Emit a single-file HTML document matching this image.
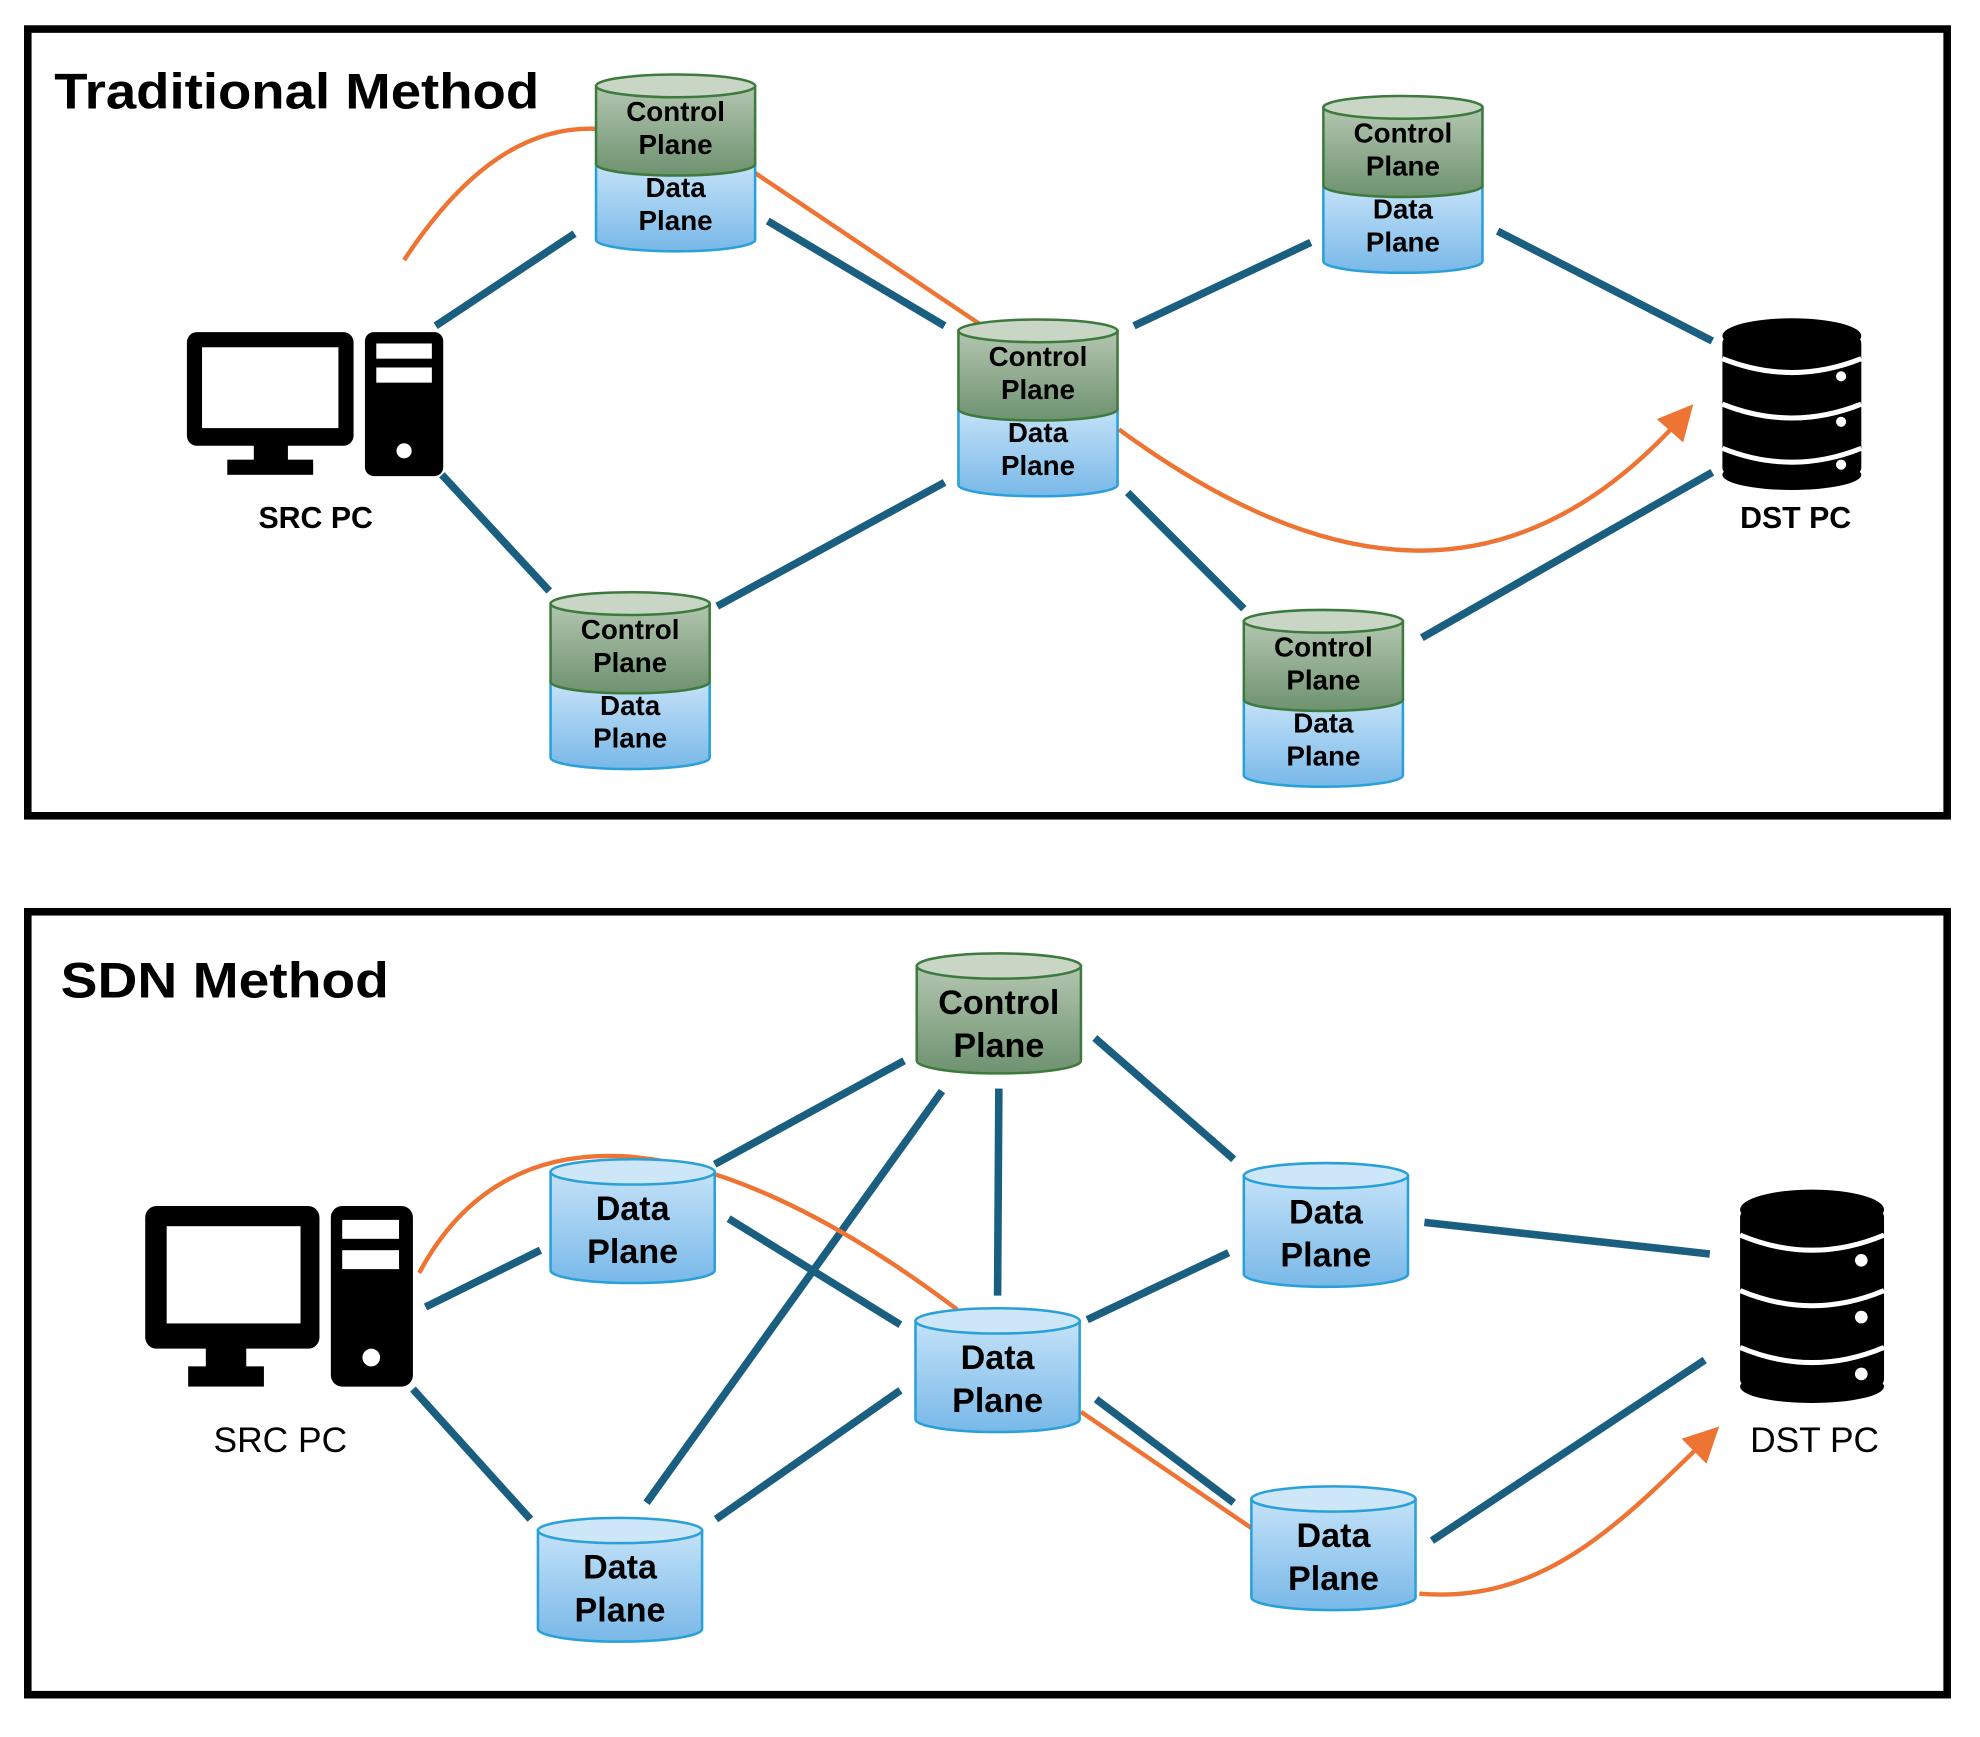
<!DOCTYPE html>
<html><head><meta charset="utf-8"><style>html,body{margin:0;padding:0;background:#fff}svg{display:block}</style></head>
<body>
<svg width="1980" height="1737" viewBox="0 0 1568 1375.5" preserveAspectRatio="none" xmlns="http://www.w3.org/2000/svg" font-family="Liberation Sans, sans-serif" font-weight="bold">
<defs>
<linearGradient id="g" x1="0" y1="0" x2="0" y2="1"><stop offset="0" stop-color="#b3c6b0"/><stop offset="1" stop-color="#6e9270"/></linearGradient>
<linearGradient id="b" x1="0" y1="0" x2="0" y2="1"><stop offset="0" stop-color="#c4e2f8"/><stop offset="1" stop-color="#78b8e8"/></linearGradient>
<marker id="ar" markerWidth="8" markerHeight="8" refX="5" refY="4" orient="auto" markerUnits="strokeWidth"><path d="M0,0 L8,4 L0,8 Z" fill="#ed7433"/></marker>
<g id="dual">
<path d="M0,62 L0,122 A63,9 0 0 0 126,122 L126,62 Z" fill="url(#b)" stroke="#2aa0d8" stroke-width="2"/>
<path d="M0,0 L0,62 A63,9 0 0 0 126,62 L126,0 Z" fill="url(#g)" stroke="#3d7a3d" stroke-width="2"/>
<ellipse cx="63" cy="0" rx="63" ry="9" fill="#c9d6c6" stroke="#3d7a3d" stroke-width="2"/>
<text x="63" y="28" font-size="22" text-anchor="middle">Control</text>
<text x="63" y="54" font-size="22" text-anchor="middle">Plane</text>
<text x="63" y="88" font-size="22" text-anchor="middle">Data</text>
<text x="63" y="114" font-size="22" text-anchor="middle">Plane</text>
</g>
<g id="dp">
<path d="M0,0 L0,78 A65,10 0 0 0 130,78 L130,0 Z" fill="url(#b)" stroke="#2aa0d8" stroke-width="2"/>
<ellipse cx="65" cy="0" rx="65" ry="10" fill="#cde6f8" stroke="#2aa0d8" stroke-width="2"/>
<text x="65" y="38" font-size="27" text-anchor="middle">Data</text>
<text x="65" y="72" font-size="27" text-anchor="middle">Plane</text>
</g>
</defs>
<rect x="22" y="23" width="1520" height="623" fill="none" stroke="#000" stroke-width="6"/>
<rect x="22" y="722" width="1520" height="620" fill="none" stroke="#000" stroke-width="6"/>
<text x="43" y="86" font-size="40" textLength="384" lengthAdjust="spacingAndGlyphs">Traditional Method</text>
<text x="48" y="790" font-size="40" textLength="260" lengthAdjust="spacingAndGlyphs">SDN Method</text>

<g stroke="#1a5e80" stroke-width="6" fill="none">
<line x1="345" y1="258" x2="455" y2="185"/><line x1="608" y1="175" x2="748" y2="258"/>
<line x1="898" y1="258" x2="1038" y2="192"/><line x1="1186" y1="183" x2="1356" y2="270"/>
<line x1="350" y1="376" x2="435" y2="468"/><line x1="568" y1="480" x2="748" y2="382"/>
<line x1="893" y1="390" x2="985" y2="482"/><line x1="1126" y1="505" x2="1356" y2="374"/>
<line x1="566" y1="922" x2="716" y2="840"/><line x1="512" y1="1190" x2="746" y2="864"/>
<line x1="791" y1="862" x2="790" y2="1026"/><line x1="867" y1="822" x2="977" y2="918"/>
<line x1="337" y1="1035" x2="428" y2="990"/><line x1="577" y1="965" x2="713" y2="1049"/>
<line x1="861" y1="1045" x2="973" y2="992"/><line x1="1128" y1="968" x2="1354" y2="993"/>
<line x1="567" y1="1203" x2="713" y2="1101"/><line x1="327" y1="1100" x2="420" y2="1203"/>
<line x1="868" y1="1108" x2="977" y2="1190"/><line x1="1134" y1="1220" x2="1350" y2="1077"/>
</g>
<g stroke="#ed7433" stroke-width="3.5" fill="none">
<path d="M320,206 C370,130 420,100 472,102"/>
<path d="M598,137 L775,256"/>
<path d="M886,340 C1050,460 1200,480 1334,328" marker-end="url(#ar)"/>
<path d="M332,1008 C400,880 550,880 758,1037"/>
<path d="M856,1118 L991,1210"/>
<path d="M1124,1262 C1220,1270 1280,1210 1354,1137" marker-end="url(#ar)"/>
</g>

<use href="#dual" x="472" y="68"/><use href="#dual" x="759" y="262"/>
<use href="#dual" x="1048" y="85"/><use href="#dual" x="436" y="478"/>
<use href="#dual" x="985" y="492"/>

<path d="M726,765 L726,840 A65,10 0 0 0 856,840 L856,765 Z" fill="url(#g)" stroke="#3d7a3d" stroke-width="2"/>
<ellipse cx="791" cy="765" rx="65" ry="10" fill="#c9d6c6" stroke="#3d7a3d" stroke-width="2"/>
<text x="791" y="803" font-size="27" text-anchor="middle">Control</text>
<text x="791" y="837" font-size="27" text-anchor="middle">Plane</text>
<use href="#dp" x="436" y="928"/><use href="#dp" x="985" y="931"/>
<use href="#dp" x="725" y="1046"/><use href="#dp" x="426" y="1212"/>
<use href="#dp" x="991" y="1187"/>

<rect x="148" y="263" width="132" height="90" rx="8" fill="#000"/>
<rect x="160" y="275" width="108" height="64" fill="#fff"/>
<rect x="201" y="352" width="27" height="14" fill="#000"/><rect x="180" y="364" width="68" height="12" fill="#000"/>
<rect x="289" y="263" width="62" height="114" rx="7" fill="#000"/>
<rect x="298" y="272" width="44" height="12" fill="#fff"/><rect x="298" y="291" width="44" height="12" fill="#fff"/>
<circle cx="320" cy="357" r="6" fill="#fff"/>
<text x="250" y="418" font-size="24" text-anchor="middle">SRC PC</text>

<rect x="115" y="955" width="138" height="113" rx="9" fill="#000"/>
<rect x="132" y="971" width="106" height="77" fill="#fff"/>
<rect x="163" y="1066" width="32" height="18" fill="#000"/><rect x="149" y="1082" width="60" height="16" fill="#000"/>
<rect x="262" y="955" width="65" height="143" rx="9" fill="#000"/>
<rect x="271" y="966" width="45" height="15" fill="#fff"/><rect x="271" y="990" width="45" height="15" fill="#fff"/>
<circle cx="294" cy="1075" r="7" fill="#fff"/>
<text x="222" y="1150" font-size="28" text-anchor="middle" font-weight="normal">SRC PC</text>

<g>
<rect x="1364" y="266" width="110" height="110" rx="6" fill="#000"/>
<ellipse cx="1419" cy="266" rx="55" ry="14" fill="#000"/>
<ellipse cx="1419" cy="376" rx="55" ry="12" fill="#000"/>
<path d="M1364,284 Q1419,306 1474,284" stroke="#fff" stroke-width="4" fill="none"/>
<path d="M1364,320 Q1419,342 1474,320" stroke="#fff" stroke-width="4" fill="none"/>
<path d="M1364,355 Q1419,377 1474,355" stroke="#fff" stroke-width="4" fill="none"/>
<circle cx="1458" cy="298" r="4" fill="#fff"/><circle cx="1458" cy="334" r="4" fill="#fff"/><circle cx="1458" cy="368" r="4" fill="#fff"/>
</g>
<text x="1422" y="418" font-size="24" text-anchor="middle">DST PC</text>
<g>
<rect x="1378" y="958" width="114" height="140" rx="6" fill="#000"/>
<ellipse cx="1435" cy="958" rx="57" ry="16" fill="#000"/>
<ellipse cx="1435" cy="1098" rx="57" ry="13" fill="#000"/>
<path d="M1378,978 Q1435,1002 1492,978" stroke="#fff" stroke-width="4" fill="none"/>
<path d="M1378,1022 Q1435,1046 1492,1022" stroke="#fff" stroke-width="4" fill="none"/>
<path d="M1378,1067 Q1435,1091 1492,1067" stroke="#fff" stroke-width="4" fill="none"/>
<circle cx="1474" cy="998" r="5" fill="#fff"/><circle cx="1474" cy="1043" r="5" fill="#fff"/><circle cx="1474" cy="1088" r="5" fill="#fff"/>
</g>
<text x="1437" y="1150" font-size="28" text-anchor="middle" font-weight="normal">DST PC</text>
</svg>
</body></html>
